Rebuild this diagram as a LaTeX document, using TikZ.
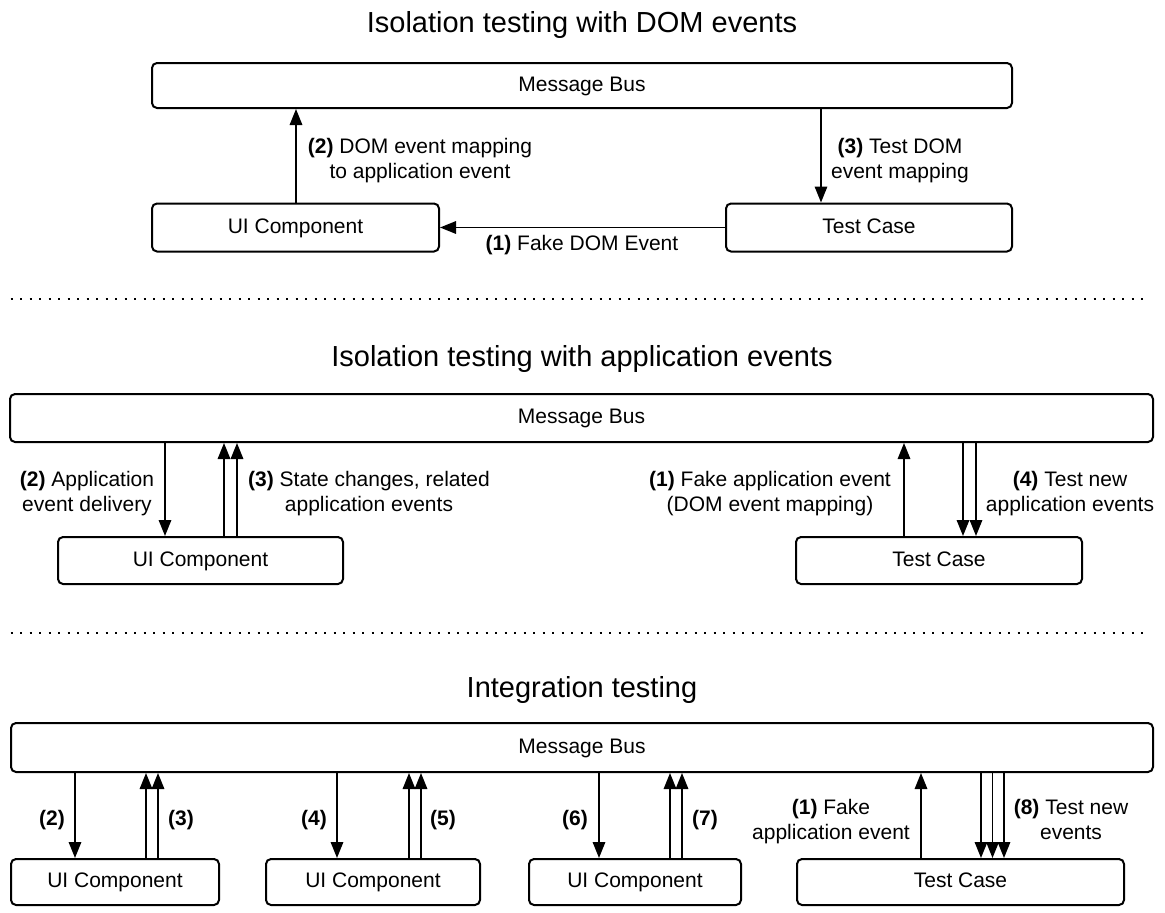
\documentclass[tikz,border=0pt]{standalone}
\usepackage{fontspec}
\setmainfont{Liberation Sans}
\usetikzlibrary{arrows.meta}
\begin{document}
\begin{tikzpicture}[x=1pt,y=-1pt,
  box/.style={draw=black,line width=2pt,rounded corners=5pt,inner sep=0pt,text height=15pt,text depth=4pt,font=\fontsize{21}{25}\selectfont},
  lbl/.style={inner sep=0pt,align=center,text height=15pt,text depth=4pt,font=\fontsize{21}{25}\selectfont},
  mlbl/.style={inner sep=0pt,align=center,font=\fontsize{21}{25}\selectfont},
  ttl/.style={inner sep=0pt,anchor=base,font=\fontsize{29}{34}\selectfont},
  arr/.style={line width=1.6pt,-{Triangle[length=16pt,width=12.5pt]}},
  sep/.style={line width=2.2pt,dash pattern=on 2.2pt off 7.3pt}]
\useasboundingbox (0,0) rectangle (1165,913);

% ---------- Section 1 ----------
\node[ttl] (t1) at (582,32) {Isolation testing with DOM events};
\node[box,minimum width=860pt,minimum height=45pt] (bus1) at (582,85.5) {Message Bus};
\node[box,minimum width=287pt,minimum height=48pt] (ui1) at (295.5,227.5) {UI Component};
\node[box,minimum width=286pt,minimum height=48pt] (tc1) at (869,227.5) {Test Case};
\coordinate (x296) at (296,0);
\coordinate (x821) at (821,0);
\draw[arr] (ui1.north -| x296) -- (bus1.south -| x296);
\draw[arr] (bus1.south -| x821) -- (tc1.north -| x821);
\draw[arr] (tc1.west) -- (ui1.east);
\node[mlbl] (l12) at (420,160.5) {\textbf{(2)} DOM event mapping\\to application event};
\node[mlbl] (l13) at (900,160.5) {\textbf{(3)} Test DOM\\event mapping};
\node[lbl] (l11) at (582,245) {\textbf{(1)} Fake DOM Event};

\coordinate (s1a) at (10.6,299);
\coordinate (s1b) at (1150,299);
\draw[sep] (s1a) -- (s1b);

% ---------- Section 2 ----------
\node[ttl] (t2) at (582,366) {Isolation testing with application events};
\node[box,minimum width=1143pt,minimum height=48pt] (bus2) at (581.5,418) {Message Bus};
\node[box,minimum width=285pt,minimum height=47pt] (ui2) at (200.5,560.5) {UI Component};
\node[box,minimum width=286pt,minimum height=47pt] (tc2) at (939,560.5) {Test Case};
\coordinate (x165) at (165,0);
\coordinate (x224) at (224,0);
\coordinate (x237) at (237,0);
\coordinate (x904) at (904,0);
\coordinate (x963) at (963,0);
\coordinate (x976) at (976,0);
\draw[arr] (bus2.south -| x165) -- (ui2.north -| x165);
\draw[arr] (ui2.north -| x224) -- (bus2.south -| x224);
\draw[arr] (ui2.north -| x237) -- (bus2.south -| x237);
\draw[arr] (tc2.north -| x904) -- (bus2.south -| x904);
\draw[arr] (bus2.south -| x963) -- (tc2.north -| x963);
\draw[arr] (bus2.south -| x976) -- (tc2.north -| x976);
\node[mlbl] (l22) at (87,493.5) {\textbf{(2)} Application\\event delivery};
\node[mlbl] (l23) at (369,493.5) {\textbf{(3)} State changes, related\\application events};
\node[mlbl] (l21) at (770,493.5) {\textbf{(1)} Fake application event\\(DOM event mapping)};
\node[mlbl] (l24) at (1070,493.5) {\textbf{(4)} Test new\\application events};

\coordinate (s2a) at (10.6,633);
\coordinate (s2b) at (1150,633);
\draw[sep] (s2a) -- (s2b);

% ---------- Section 3 ----------
\node[ttl] (t3) at (582,697) {Integration testing};
\node[box,minimum width=1142pt,minimum height=49pt] (bus3) at (582,747.5) {Message Bus};
\node[box,minimum width=208pt,minimum height=46pt] (ui31) at (115,882) {UI Component};
\node[box,minimum width=214pt,minimum height=46pt] (ui32) at (373,882) {UI Component};
\node[box,minimum width=212pt,minimum height=46pt] (ui33) at (635,882) {UI Component};
\node[box,minimum width=327pt,minimum height=46pt] (tc3) at (960.5,882) {Test Case};
\coordinate (x75) at (75,0);
\coordinate (x146) at (146,0);
\coordinate (x158) at (158,0);
\coordinate (x337) at (337,0);
\coordinate (x409) at (409,0);
\coordinate (x421) at (421,0);
\coordinate (x599) at (599,0);
\coordinate (x670) at (670,0);
\coordinate (x682) at (682,0);
\coordinate (x921) at (921,0);
\coordinate (x981) at (981,0);
\coordinate (x992) at (992.5,0);
\coordinate (x1004) at (1004,0);
\draw[arr] (bus3.south -| x75) -- (ui31.north -| x75);
\draw[arr] (ui31.north -| x146) -- (bus3.south -| x146);
\draw[arr] (ui31.north -| x158) -- (bus3.south -| x158);
\draw[arr] (bus3.south -| x337) -- (ui32.north -| x337);
\draw[arr] (ui32.north -| x409) -- (bus3.south -| x409);
\draw[arr] (ui32.north -| x421) -- (bus3.south -| x421);
\draw[arr] (bus3.south -| x599) -- (ui33.north -| x599);
\draw[arr] (ui33.north -| x670) -- (bus3.south -| x670);
\draw[arr] (ui33.north -| x682) -- (bus3.south -| x682);
\draw[arr] (tc3.north -| x921) -- (bus3.south -| x921);
\draw[arr] (bus3.south -| x981) -- (tc3.north -| x981);
\draw[arr] (bus3.south -| x992) -- (tc3.north -| x992);
\draw[arr] (bus3.south -| x1004) -- (tc3.north -| x1004);
\node[lbl] (l32) at (52,820) {\textbf{(2)}};
\node[lbl] (l33) at (181,820) {\textbf{(3)}};
\node[lbl] (l34) at (314,820) {\textbf{(4)}};
\node[lbl] (l35) at (443,820) {\textbf{(5)}};
\node[lbl] (l36) at (575,820) {\textbf{(6)}};
\node[lbl] (l37) at (705,820) {\textbf{(7)}};
\node[mlbl] (l31) at (831,821.5) {\textbf{(1)} Fake\\application event};
\node[mlbl,text depth=4pt] (l38) at (1071,821.5) {\textbf{(8)} Test new\\events};
\end{tikzpicture}
\end{document}
